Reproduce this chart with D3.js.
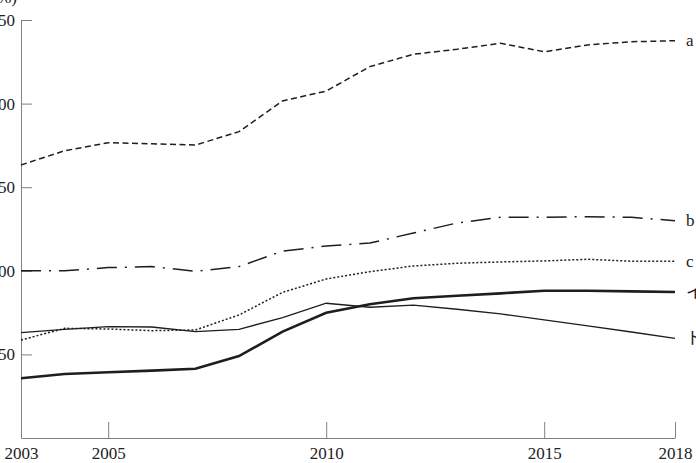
<!DOCTYPE html>
<html>
<head>
<meta charset="utf-8">
<script src="https://cdn.jsdelivr.net/npm/d3@7"></script>
<style>
  body { margin: 0; background: #fff; }
  svg { display: block; }
  .axis path, .axis line { stroke: #808080; }
  .axis text { font-family: "Liberation Serif", "DejaVu Serif", serif; font-size: 17px; fill: #222; }
  .lab { font-family: "Liberation Serif", "Noto Sans CJK JP", serif; font-size: 17px; fill: #222; }
</style>
</head>
<body>
<svg id="chart"></svg>
<script>
// data (values in %)
var years = [2003, 2004, 2005, 2006, 2007, 2008, 2009, 2010, 2011, 2012, 2013, 2014, 2015, 2016, 2017, 2018];
var seriesA = [163.3, 171.8, 176.6, 176.0, 175.2, 183.2, 201.6, 207.5, 222.1, 229.5, 232.5, 236.1, 231.0, 235.1, 237.0, 237.6];
var seriesB = [100.0, 100.0, 101.9, 102.5, 99.7, 102.5, 111.8, 114.8, 116.6, 122.6, 128.6, 132.0, 132.0, 132.4, 132.0, 130.0];
var seriesC = [58.6, 65.6, 65.2, 64.2, 64.6, 73.6, 87.1, 95.1, 99.5, 102.9, 104.5, 105.3, 105.9, 106.9, 105.7, 105.7];
var seriesI = [35.7, 38.3, 39.3, 40.3, 41.4, 49.0, 63.6, 74.9, 80.0, 83.6, 85.1, 86.5, 88.1, 88.1, 87.7, 87.3];
var seriesTo = [63.0, 65.0, 66.6, 66.4, 63.6, 65.0, 72.0, 80.6, 78.2, 79.5, 77.0, 74.2, 70.6, 67.0, 63.4, 59.6];
var seriesNames = ["a", "b", "c", "イ", "ト"];
var xTicks = [2003, 2005, 2010, 2015, 2018];
var yTicks = [50, 100, 150, 200, 250];
var unitLabel = "(%)";

var W = 696, H = 463;
var margin = { top: 20, right: 21, bottom: 25, left: 21 };

var svg = d3.select("#chart").attr("width", W).attr("height", H);

var x = d3.scaleLinear().domain([2003, 2018]).range([margin.left, W - margin.right]);
var y = d3.scaleLinear().domain([0, 250]).range([H - margin.bottom, margin.top]);

// axes, ticks point inward
svg.append("g")
    .attr("class", "axis")
    .attr("transform", "translate(" + margin.left + ",0)")
    .call(d3.axisLeft(y).tickValues(yTicks).tickSizeInner(-11).tickSizeOuter(0).tickPadding(6));

svg.append("g")
    .attr("class", "axis")
    .attr("transform", "translate(0," + (H - margin.bottom) + ")")
    .call(d3.axisBottom(x).tickValues(xTicks).tickFormat(d3.format("d")).tickSizeInner(-16).tickSizeOuter(0).tickPadding(9));

svg.append("text")
    .attr("class", "lab")
    .attr("x", 17).attr("y", 3)
    .attr("text-anchor", "end")
    .text(unitLabel);

var styles = [
    { vals: seriesA, width: 1.5, dash: "6,3.5" },
    { vals: seriesB, width: 1.5, dash: "20,8,2,8" },
    { vals: seriesC, width: 1.5, dash: "2,2" },
    { vals: seriesI, width: 2.6, dash: null },
    { vals: seriesTo, width: 1.3, dash: null }
];

var line = d3.line()
    .x(function(d, i) { return x(years[i]); })
    .y(function(d) { return y(d); });

styles.forEach(function(s, k) {
    svg.append("path")
        .attr("d", line(s.vals))
        .attr("fill", "none")
        .attr("stroke", "#1e1e1e")
        .attr("stroke-width", s.width)
        .attr("stroke-dasharray", s.dash);

    svg.append("text")
        .attr("class", "lab")
        .attr("x", x(2018) + 11)
        .attr("y", y(s.vals[s.vals.length - 1]))
        .attr("dy", "0.33em")
        .text(seriesNames[k]);
});
</script>
</body>
</html>
